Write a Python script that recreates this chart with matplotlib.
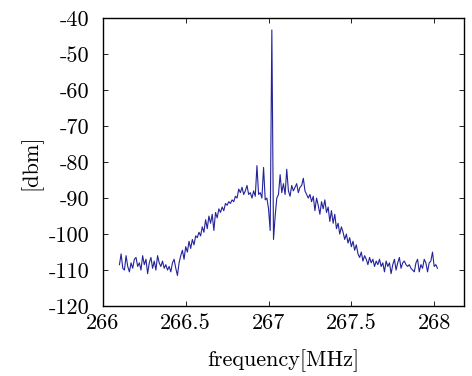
import matplotlib
matplotlib.use("Agg")
import matplotlib.pyplot as plt
import numpy as np

# spectrum trace (dBm), evenly swept 266.10 .. 268.02 MHz
left_floor = [-108.5, -105.5, -109.5, -110, -106, -109, -110.5, -108, -109.5, -107,
              -106.5, -109, -108, -110, -106, -108.5, -107, -111, -108, -106.5,
              -109.5, -107.5, -110, -106, -108, -109, -107.5, -109.5, -108.5, -110,
              -109, -110.5, -108, -107, -109.5, -111.5]
left_rise = [-108, -106, -104.5, -107, -103.5, -105, -102, -104, -101.5, -103,
             -100.5, -101, -99.5, -100.5, -98, -99.5, -96, -98.5, -95, -97,
             -94.5, -99, -94, -95.5, -93, -94, -92.5, -93.5, -91.5, -92,
             -91, -91.5, -90.5, -91, -89.5, -90, -87.5, -88.5, -87, -89,
             -88, -86.5, -89, -88.5, -90, -88, -89.5, -81, -89, -88.5,
             -90, -81.5, -90.5, -90, -93, -99]
carrier = [-43.3]
right_top = [-101.5, -95, -90, -89, -83.5, -88.5, -86, -89, -82, -88,
             -89.5, -86.5, -88, -87, -86, -88.5, -87, -86.5, -84.5, -88,
             -89, -90, -89, -91, -89.5, -93.5, -90]
right_fall = [-92, -94.5, -91, -93, -90.5, -94, -92.5, -96.5, -93.5, -97,
              -94.5, -98.5, -97, -100, -98, -99.5, -101.5, -100, -102.5, -101,
              -103.5, -102, -104.5, -103, -105.5, -106.5, -105, -107.5, -106, -107,
              -108.5, -106.5, -108, -107, -109, -107.5, -108.5, -107, -109, -108,
              -110.5, -107.5, -109, -108, -111, -108.5, -107, -110, -108, -106.5,
              -109.5, -108, -107.5, -108.5, -109, -108.5, -109.5, -110, -110.5, -108,
              -107, -110.5, -108.5, -109.5, -107, -108, -110.5, -108, -107.5, -105,
              -109, -108.5, -109.5]

dbm = np.array(left_floor + left_rise + carrier + right_top + right_fall)
freq = np.linspace(266.10, 268.02, len(dbm))

xticks = [266, 266.5, 267, 267.5, 268]
yticks = [-120, -110, -100, -90, -80, -70, -60, -50, -40]

plt.rcParams["font.family"] = "cmr10"
plt.rcParams["axes.unicode_minus"] = False

fig = plt.figure(figsize=(4.72, 3.76), dpi=100)
ax = fig.add_axes([0.218, 0.186, 0.765, 0.766])
ax.plot(freq, dbm, color="#23239a", linewidth=0.8)

ax.set_xlim(266, 268.18)
ax.set_ylim(-120, -40)
ax.set_xticks(xticks)
ax.set_xticklabels([f"{t:g}" for t in xticks])
ax.set_yticks(yticks)
ax.set_yticklabels([str(t) for t in yticks])
ax.tick_params(direction="in", top=True, right=True, length=3.5, width=0.6, labelsize=16)
ax.tick_params(axis="y", pad=10)
ax.tick_params(axis="x", pad=5)
for s in ax.spines.values():
    s.set_linewidth(1.0)

ax.set_xlabel("frequency[MHz]", fontsize=16, labelpad=12)
ax.set_ylabel("[dbm]", fontsize=16, labelpad=4)

fig.savefig("out.png", dpi=100)
